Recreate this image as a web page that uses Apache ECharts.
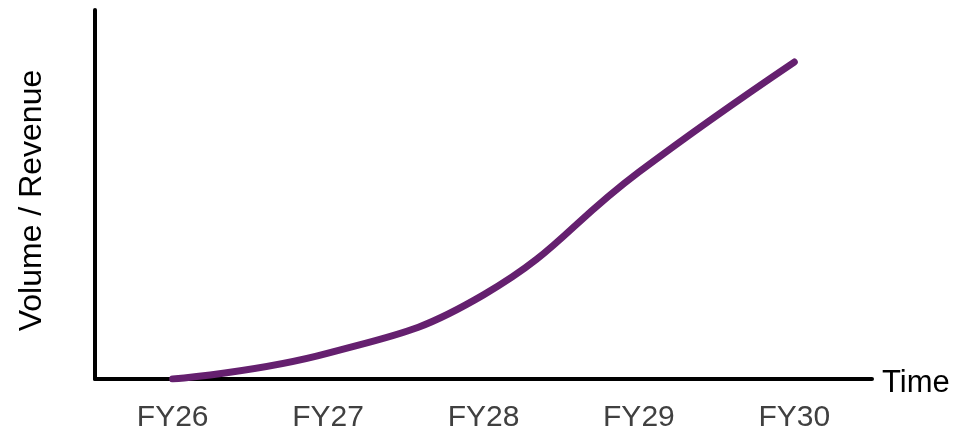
<!DOCTYPE html>
<html>
<head>
<meta charset="utf-8">
<script src="https://cdn.jsdelivr.net/npm/echarts@6/dist/echarts.min.js"></script>
<style>
  html, body { margin: 0; padding: 0; background: #fff; }
  #chart { width: 977px; height: 429px; }
</style>
</head>
<body>
<div id="chart"></div>
<script>
// Fiscal years along the time axis
const years = ['FY26', 'FY27', 'FY28', 'FY29', 'FY30'];
// Relative volume / revenue growth (index, 0–100 scale)
const growth = [0, 7.0, 22.8, 56.1, 85.9];

const font = 'Liberation Sans, Arial, sans-serif';
const chart = echarts.init(document.getElementById('chart'), null, { renderer: 'canvas' });
chart.setOption({
  animation: false,
  grid: { left: 95, right: 105, top: 10, bottom: 50, outerBoundsMode: 'none' },
  xAxis: {
    type: 'category',
    data: years,
    boundaryGap: true,
    name: 'Time',
    nameLocation: 'end',
    nameGap: 10,
    nameTextStyle: { color: '#000', fontSize: 31, fontFamily: font, verticalAlign: 'top', lineHeight: 9 },
    axisLine: { lineStyle: { color: '#000', width: 4 } },
    axisTick: { show: false },
    axisLabel: { color: '#404040', fontSize: 30, margin: 24, fontFamily: font },
    splitLine: { show: false }
  },
  yAxis: {
    type: 'value',
    min: 0,
    max: 100,
    name: 'Volume / Revenue',
    nameLocation: 'middle',
    nameGap: 47,
    nameTextStyle: { color: '#000', fontSize: 32, fontFamily: font, padding: [0, 12, 0, 0] },
    axisLine: { show: true, lineStyle: { color: '#000', width: 4 } },
    axisTick: { show: false },
    axisLabel: { show: false },
    splitLine: { show: false }
  },
  series: [{
    type: 'line',
    data: growth,
    smooth: 0.45,
    symbol: 'none',
    lineStyle: { color: '#65206F', width: 7, cap: 'round', join: 'round' }
  }]
});
</script>
</body>
</html>
